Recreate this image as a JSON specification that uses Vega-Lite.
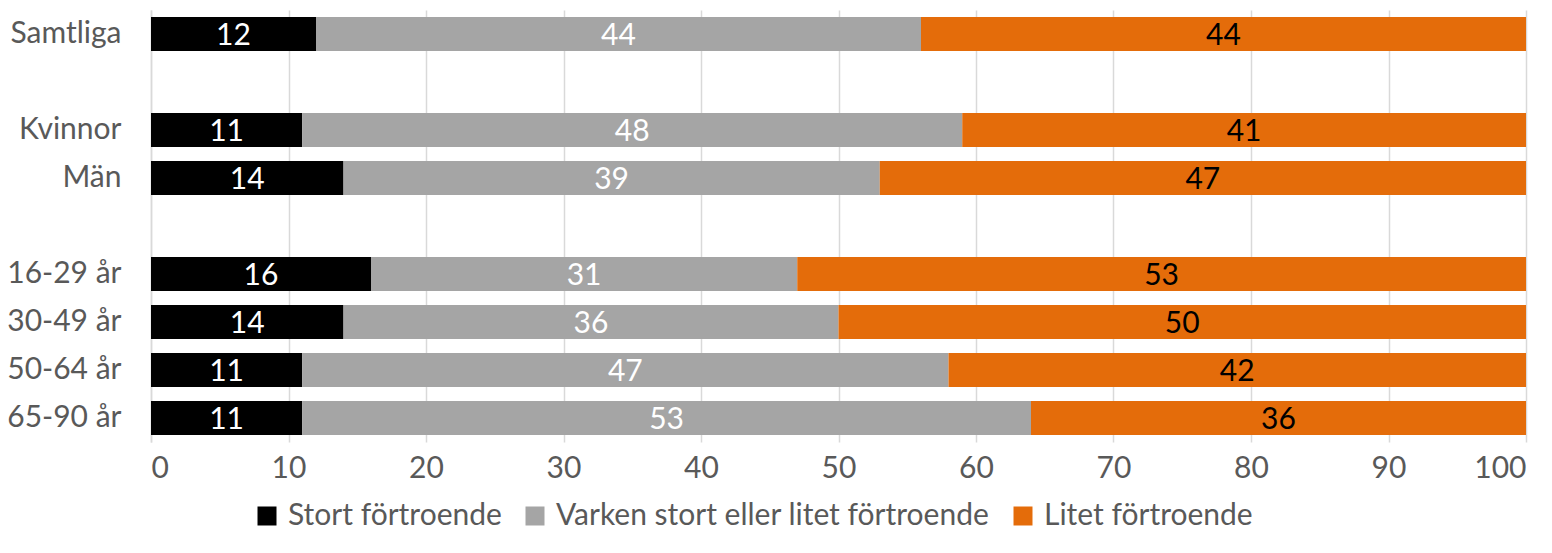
{
  "$schema": "https://vega.github.io/schema/vega-lite/v6.json",
  "width": 1375,
  "height": 432,
  "autosize": {"type": "none"},
  "padding": {"left": 151, "top": 10, "right": 26, "bottom": 111},
  "background": "white",
  "config": {
    "font": "Lato",
    "view": {"stroke": null}
  },
  "data": {
    "values": [
      {"cat": "Samtliga", "series": "Stort förtroende", "ord": 1, "value": 12},
      {"cat": "Samtliga", "series": "Varken stort eller litet förtroende", "ord": 2, "value": 44},
      {"cat": "Samtliga", "series": "Litet förtroende", "ord": 3, "value": 44},
      {"cat": "Kvinnor", "series": "Stort förtroende", "ord": 1, "value": 11},
      {"cat": "Kvinnor", "series": "Varken stort eller litet förtroende", "ord": 2, "value": 48},
      {"cat": "Kvinnor", "series": "Litet förtroende", "ord": 3, "value": 41},
      {"cat": "Män", "series": "Stort förtroende", "ord": 1, "value": 14},
      {"cat": "Män", "series": "Varken stort eller litet förtroende", "ord": 2, "value": 39},
      {"cat": "Män", "series": "Litet förtroende", "ord": 3, "value": 47},
      {"cat": "16-29 år", "series": "Stort förtroende", "ord": 1, "value": 16},
      {"cat": "16-29 år", "series": "Varken stort eller litet förtroende", "ord": 2, "value": 31},
      {"cat": "16-29 år", "series": "Litet förtroende", "ord": 3, "value": 53},
      {"cat": "30-49 år", "series": "Stort förtroende", "ord": 1, "value": 14},
      {"cat": "30-49 år", "series": "Varken stort eller litet förtroende", "ord": 2, "value": 36},
      {"cat": "30-49 år", "series": "Litet förtroende", "ord": 3, "value": 50},
      {"cat": "50-64 år", "series": "Stort förtroende", "ord": 1, "value": 11},
      {"cat": "50-64 år", "series": "Varken stort eller litet förtroende", "ord": 2, "value": 47},
      {"cat": "50-64 år", "series": "Litet förtroende", "ord": 3, "value": 42},
      {"cat": "65-90 år", "series": "Stort förtroende", "ord": 1, "value": 11},
      {"cat": "65-90 år", "series": "Varken stort eller litet förtroende", "ord": 2, "value": 53},
      {"cat": "65-90 år", "series": "Litet förtroende", "ord": 3, "value": 36}
    ]
  },
  "transform": [
    {"stack": "value", "groupby": ["cat"], "sort": [{"field": "ord", "order": "ascending"}], "as": ["x0", "x1"]},
    {"calculate": "(datum.x0 + datum.x1) / 2", "as": "mid"}
  ],
  "encoding": {
    "y": {
      "field": "cat",
      "type": "nominal",
      "title": null,
      "scale": {
        "domain": ["Samtliga", " ", "Kvinnor", "Män", "  ", "16-29 år", "30-49 år", "50-64 år", "65-90 år"],
        "paddingInner": 0.29,
        "paddingOuter": 0.145
      },
      "axis": {
        "domain": true,
        "domainColor": "#D9D9D9",
        "domainWidth": 1.5,
        "ticks": false,
        "labelFontSize": 30,
        "labelColor": "#595959",
        "labelPadding": 30,
        "labelFont": "Lato"
      }
    }
  },
  "layer": [
    {
      "mark": {"type": "bar"},
      "encoding": {
        "x": {
          "field": "x0",
          "type": "quantitative",
          "scale": {"domain": [0, 100], "nice": false},
          "title": null,
          "axis": {
            "values": [0, 10, 20, 30, 40, 50, 60, 70, 80, 90, 100],
            "grid": true,
            "gridColor": "#D9D9D9",
            "gridWidth": 1.5,
            "domain": false,
            "ticks": false,
            "labelFontSize": 30,
            "labelColor": "#595959",
            "labelPadding": 11,
            "labelFont": "Lato"
          }
        },
        "x2": {"field": "x1"},
        "color": {
          "field": "series",
          "type": "nominal",
          "scale": {
            "domain": ["Stort förtroende", "Varken stort eller litet förtroende", "Litet förtroende"],
            "range": ["#000000", "#A5A5A5", "#E46C0A"]
          },
          "legend": {
            "title": null,
            "orient": "none",
            "direction": "horizontal",
            "legendX": 101,
            "legendY": 491,
            "symbolType": "square",
            "symbolSize": 361,
            "symbolStrokeWidth": 0,
            "symbolOpacity": 1,
            "labelFontSize": 30,
            "labelColor": "#595959",
            "labelFont": "Lato",
            "labelLimit": 1000,
            "labelOffset": 6,
            "columnPadding": 18,
            "symbolOffset": 0
          }
        }
      }
    },
    {
      "mark": {"type": "text", "fontSize": 30, "font": "Lato", "baseline": "middle", "align": "center", "dy": 2},
      "encoding": {
        "x": {"field": "mid", "type": "quantitative"},
        "text": {"field": "value", "type": "quantitative"},
        "color": {
          "condition": {"test": "datum.series === 'Litet förtroende'", "value": "#000000"},
          "value": "#FFFFFF"
        }
      }
    }
  ]
}
